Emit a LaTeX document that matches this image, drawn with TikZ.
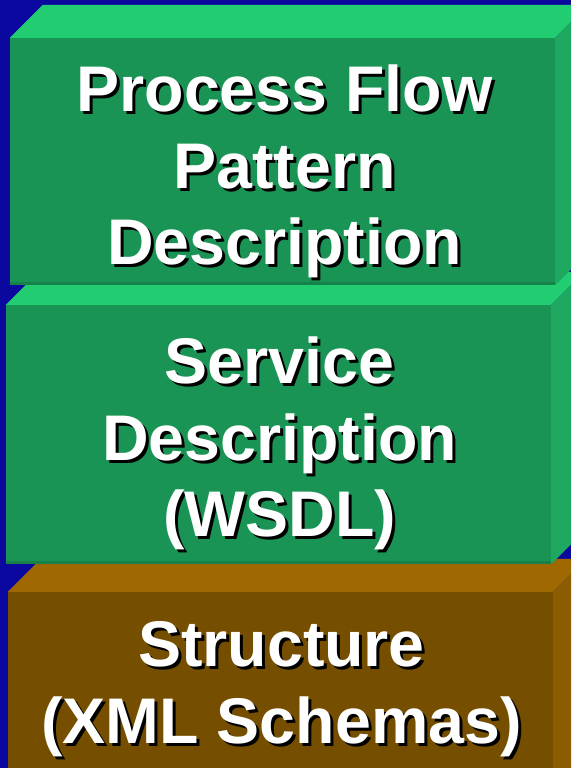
\documentclass[tikz,border=0pt]{standalone}
\usepackage{fontspec}
\setmainfont{Liberation Sans}
\usetikzlibrary{positioning,calc}

\definecolor{bgblue}{RGB}{10,8,158}
\definecolor{greentop}{RGB}{34,204,112}
\definecolor{greenfront}{RGB}{26,148,84}
\definecolor{greenside}{RGB}{30,168,96}
\definecolor{greenedge}{RGB}{22,130,74}
\definecolor{browntop}{RGB}{160,104,0}
\definecolor{brownfront}{RGB}{117,78,0}
\definecolor{brownside}{RGB}{140,92,0}

\begin{document}
\begin{tikzpicture}[x=1pt, y=-1pt,
  layerfront/.style={rectangle, inner sep=0pt, minimum width=545},
  layertext/.style={align=center, inner sep=0pt, text=white,
    font=\fontsize{64.5}{76.5}\selectfont\bfseries},
  layershadow/.style={layertext, text=black}]
  \useasboundingbox (0,0) rectangle (571,768);
  \clip (0,0) rectangle (571,768);
  \fill [bgblue] (0,0) rectangle (571,768);

  % bottom layer
  \node (front3) [layerfront, fill=brownfront, minimum height=210] at (280.5,697) {};
  \fill [browntop] (front3.north west) -- ++(33,-33) -- ($(front3.north east)+(33,-33)$) -- (front3.north east) -- cycle;
  \fill [brownside] (front3.north east) -- ++(33,-33) -- ($(front3.south east)+(33,-33)$) -- (front3.south east) -- cycle;
  \node (shadow3) [layershadow] at ($(front3.center)+(4,-5)$) {Structure\\(XML Schemas)};
  \node (text3) [layertext] at ($(front3.center)+(1,-8)$) {Structure\\(XML Schemas)};

  % middle layer
  \node (front2) [layerfront, fill=greenfront, minimum height=259] at (278.5,434.5) {};
  \fill [greentop] (front2.north west) -- ++(33,-33) -- ($(front2.north east)+(33,-33)$) -- (front2.north east) -- cycle;
  \fill [greenside] (front2.north east) -- ++(33,-33) -- ($(front2.south east)+(33,-33)$) -- (front2.south east) -- cycle;
  \fill [greenedge] ($(front2.south west)+(0,-3)$) rectangle (front2.south east);
  \node (shadow2) [layershadow] at ($(front2.center)+(4,12)$) {Service\\Description\\(WSDL)};
  \node (text2) [layertext] at ($(front2.center)+(1,9)$) {Service\\Description\\(WSDL)};

  % top layer
  \node (front1) [layerfront, fill=greenfront, minimum height=247] at (282.5,161.5) {};
  \fill [greentop] (front1.north west) -- ++(33,-33) -- ($(front1.north east)+(33,-33)$) -- (front1.north east) -- cycle;
  \fill [greenside] (front1.north east) -- ++(33,-33) -- ($(front1.south east)+(33,-33)$) -- (front1.south east) -- cycle;
  \fill [greenedge] ($(front1.south west)+(0,-3)$) rectangle (front1.south east);
  \node (shadow1) [layershadow] at ($(front1.center)+(5,13)$) {Process Flow\\Pattern\\Description};
  \node (text1) [layertext] at ($(front1.center)+(2,10)$) {Process Flow\\Pattern\\Description};
\end{tikzpicture}
\end{document}
